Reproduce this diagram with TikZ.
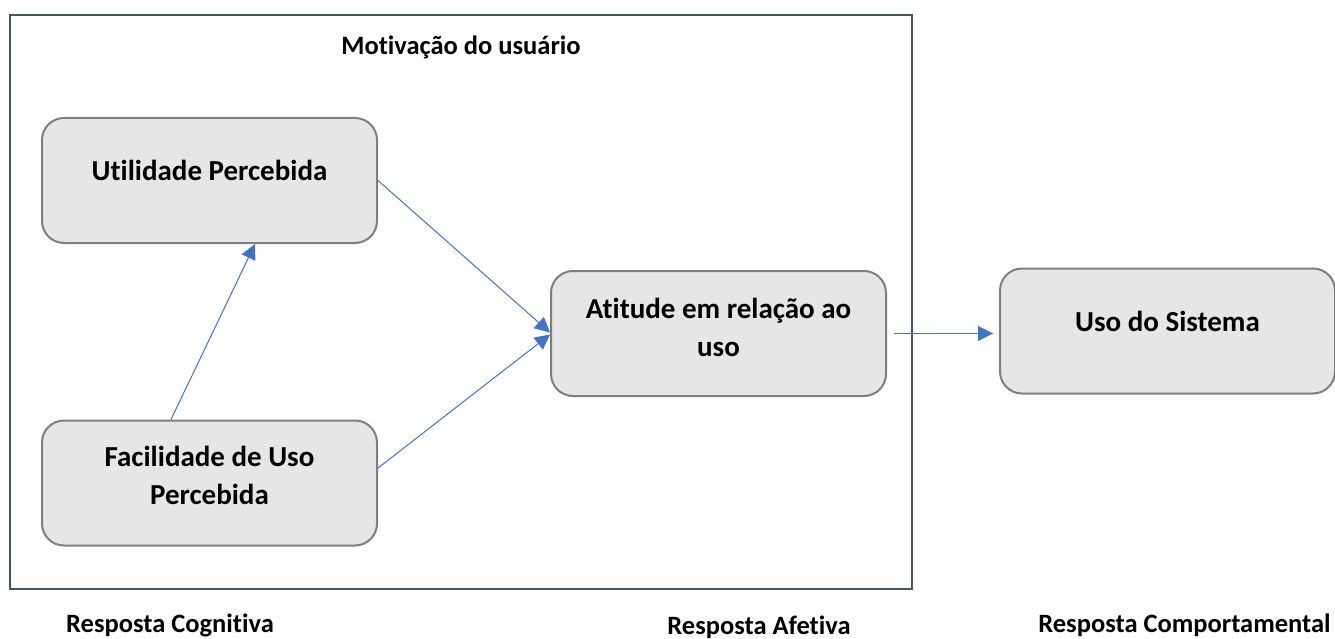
\documentclass[tikz,border=0pt]{standalone}
\usepackage{fontspec}
\setmainfont[Ligatures=NoCommon]{Carlito}
\usetikzlibrary{arrows.meta}
\definecolor{framec}{HTML}{44546A}
\definecolor{boxfill}{HTML}{E6E6E6}
\definecolor{boxline}{HTML}{7F7F7F}
\definecolor{arrowc}{HTML}{4472C4}
\begin{document}
\begin{tikzpicture}[x=1pt,y=-1pt,
  frame/.style={draw=framec,line width=2pt},
  box/.style={draw=boxline,fill=boxfill,line width=2pt,rounded corners=22pt,minimum width=335pt,minimum height=125pt,inner sep=0pt},
  boxtext/.style={font=\fontsize{29}{38}\selectfont\bfseries,align=center,inner sep=0pt},
  caption/.style={font=\fontsize{26.5}{30}\selectfont\bfseries,inner sep=0pt},
  arr/.style={draw=arrowc,line width=1pt,-{Triangle[length=15pt,width=15pt]}}]
\useasboundingbox (0,0) rectangle (1335,639);
\node[frame,minimum width=902pt,minimum height=574pt,inner sep=0pt] (frm) at (461,302) {};
\node[caption] (mot) at (461,47) {Motivação do usuário};
\node[box] (up) at (209.5,180.5) {};
\node[box] (fac) at (209.5,483) {};
\node[box] (att) at (718.5,333.5) {};
\node[box] (uso) at (1167.5,331) {};
\node[boxtext] (upt) at ([yshift=10.5pt]up.center) {Utilidade Percebida};
\node[boxtext] (fact) at ([yshift=8pt]fac.center) {Facilidade de Uso\\Percebida};
\node[boxtext] (attt) at ([yshift=6pt]att.center) {Atitude em relação ao\\uso};
\node[boxtext] (usot) at ([yshift=10pt]uso.center) {Uso do Sistema};
\node[caption] (c1) at (170,625) {Resposta Cognitiva};
\node[caption] (c2) at (759,627) {Resposta Afetiva};
\node[caption] (c3) at (1184.5,625) {Resposta Comportamental};
\coordinate (s4) at ([xshift=7pt]att.east);
\draw[arr] (up.east) -- ([yshift=1pt]att.west);
\draw[arr] ([yshift=15pt]fac.east) -- ([yshift=-1pt]att.west);
\draw[arr] ([xshift=-38.5pt]fac.north) -- ([xshift=45.5pt]up.south);
\draw[arr] (s4) -- ([xshift=-6pt]uso.west |- s4);
\end{tikzpicture}
\end{document}
